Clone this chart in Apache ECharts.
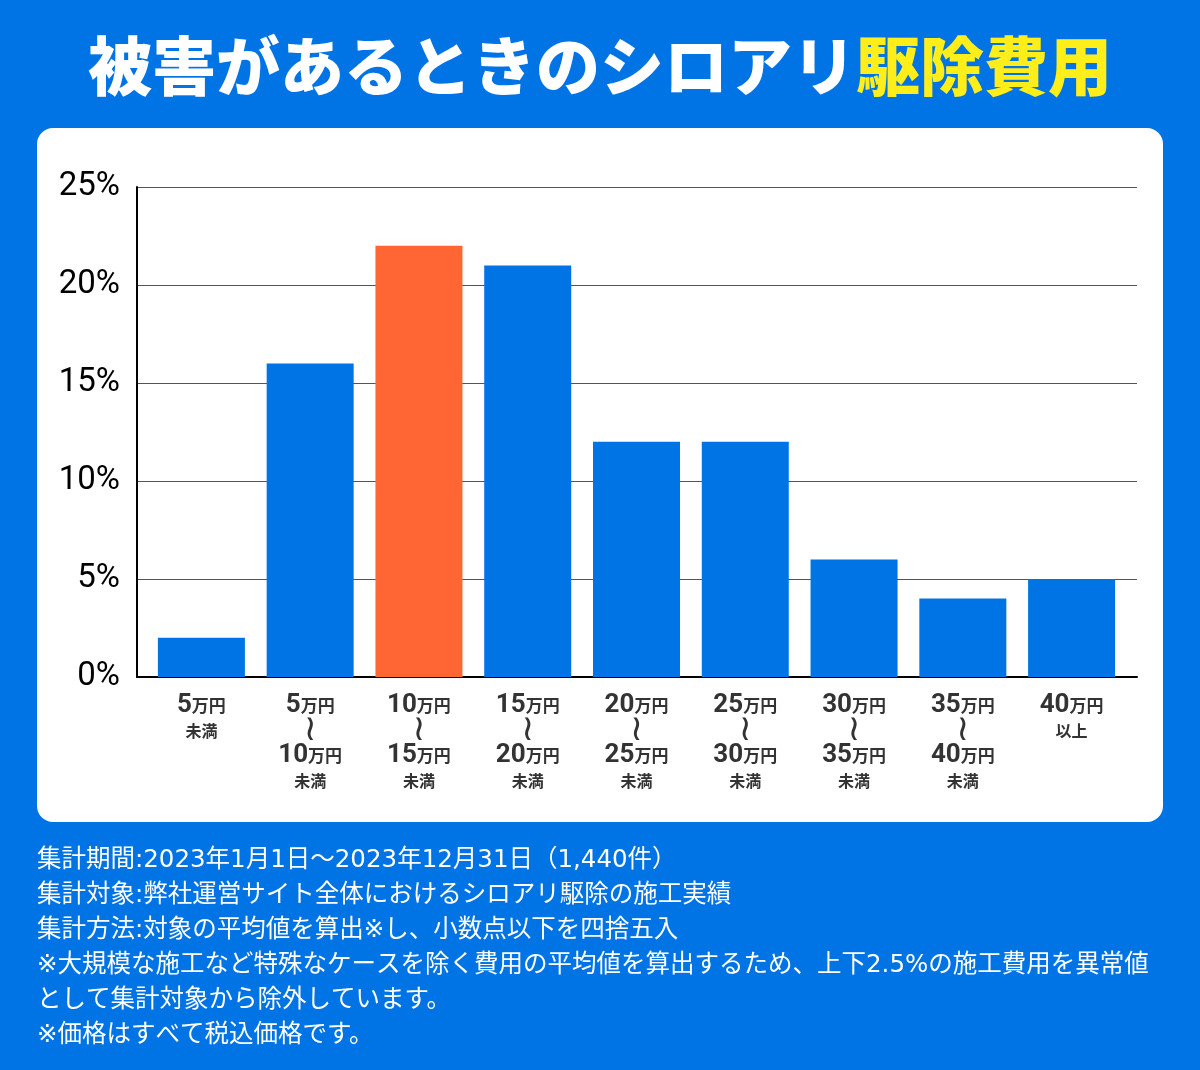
<!DOCTYPE html>
<html>
<head>
<meta charset="utf-8">
<style>
  html, body { margin: 0; padding: 0; background: #0073E5; }
  #chart { width: 1200px; height: 1070px; }
</style>
<script src="https://cdn.jsdelivr.net/npm/echarts@6/dist/echarts.min.js"></script>
</head>
<body>
<div id="chart"></div>
<script>
// ---- data ----
const titleMain = '被害があるときのシロアリ';
const titleAccent = '駆除費用';
const categories = [
  '5万円未満',
  '5万円〜10万円未満',
  '10万円〜15万円未満',
  '15万円〜20万円未満',
  '20万円〜25万円未満',
  '25万円〜30万円未満',
  '30万円〜35万円未満',
  '35万円〜40万円未満',
  '40万円以上'
];
const shares = [2, 16, 22, 21, 12, 12, 6, 4, 5];
const yTicks = [0, 5, 10, 15, 20, 25];
const footerLines = [
  '集計期間:2023年1月1日〜2023年12月31日（1,440件）',
  '集計対象:弊社運営サイト全体におけるシロアリ駆除の施工実績',
  '集計方法:対象の平均値を算出※し、小数点以下を四捨五入',
  '※大規模な施工など特殊なケースを除く費用の平均値を算出するため、上下2.5%の施工費用を異常値',
  'として集計対象から除外しています。',
  '※価格はすべて税込価格です。'
];
const highlightIndex = 2;

// ---- chart ----
const BLUE = '#0073E5';
const ORANGE = '#FF6633';
const CJK = '"Noto Sans CJK JP", "Noto Sans", sans-serif';

const chart = echarts.init(document.getElementById('chart'));

function formatCategory(cat) {
  const parts = cat.split('〜');
  const lines = [];
  parts.forEach((p, i) => {
    const m = p.match(/^(\d+)万円(.*)$/);
    if (i > 0) lines.push('{w|≀}');
    lines.push('{n|' + m[1] + '}{u|万円}');
    if (m[2]) lines.push('{s|' + m[2] + '}');
  });
  return lines.join('\n');
}

const footerGraphics = footerLines.map((t, i) => ({
  type: 'text',
  left: 37,
  top: 848 + i * 35,
  style: { text: t, fill: '#fff', font: '400 24.5px "DejaVu Sans", "Noto Sans CJK JP", sans-serif' }
}));

const yMin = yTicks[0];
const yMax = yTicks[yTicks.length - 1];
const yStep = yTicks[1] - yTicks[0];

chart.setOption({
  backgroundColor: BLUE,
  animation: false,
  title: {
    text: '{a|' + titleMain + '}{b|' + titleAccent + '}',
    left: 'center',
    top: 29,
    textStyle: {
      rich: {
        a: { fontSize: 64, fontWeight: 900, color: '#fff', fontFamily: CJK },
        b: { fontSize: 64, fontWeight: 900, color: '#FFEE1A', fontFamily: CJK }
      }
    }
  },
  graphic: [
    {
      type: 'rect',
      z: -10,
      shape: { x: 37, y: 128, width: 1126, height: 694, r: 16 },
      style: { fill: '#fff' }
    }
  ].concat(footerGraphics),
  grid: [
    { left: 137, right: 63, top: 187, bottom: 393 },
    { left: 147, right: 74, top: 187, bottom: 393 }
  ],
  xAxis: [
    {
      gridIndex: 0,
      type: 'category',
      data: [],
      axisLine: { show: true, lineStyle: { color: '#000', width: 2 } },
      axisTick: { show: false },
      axisLabel: { show: false }
    },
    {
      gridIndex: 1,
      type: 'category',
      data: categories,
      axisLine: { show: false },
      axisTick: { show: false },
      axisLabel: {
        interval: 0,
        margin: 16,
        formatter: formatCategory,
        rich: {
          n: { fontSize: 26, fontWeight: 'bold', color: '#333', fontFamily: 'Roboto, sans-serif', lineHeight: 25 },
          u: { fontSize: 17, fontWeight: 'bold', color: '#333', fontFamily: CJK, lineHeight: 25 },
          s: { fontSize: 16, fontWeight: 'bold', color: '#333', fontFamily: CJK, lineHeight: 25 },
          w: { fontSize: 36, color: '#333', fontFamily: '"DejaVu Sans"', lineHeight: 25 }
        }
      }
    }
  ],
  yAxis: [
    {
      gridIndex: 0,
      type: 'value',
      min: yMin,
      max: yMax,
      interval: yStep,
      axisLine: { show: true, lineStyle: { color: '#000', width: 2 } },
      axisTick: { show: false },
      splitLine: { lineStyle: { color: '#555', width: 1 } },
      axisLabel: {
        formatter: '{value}%',
        fontSize: 33,
        color: '#000',
        fontFamily: 'Roboto, "Liberation Sans", sans-serif',
        margin: 17
      }
    },
    {
      gridIndex: 1,
      type: 'value',
      min: yMin,
      max: yMax,
      interval: yStep,
      show: false,
      splitLine: { show: false }
    }
  ],
  series: [{
    type: 'bar',
    xAxisIndex: 1,
    yAxisIndex: 1,
    data: shares,
    barWidth: 87,
    z: 1,
    itemStyle: {
      color: p => (p.dataIndex === highlightIndex ? ORANGE : BLUE)
    }
  }]
});
</script>
</body>
</html>
